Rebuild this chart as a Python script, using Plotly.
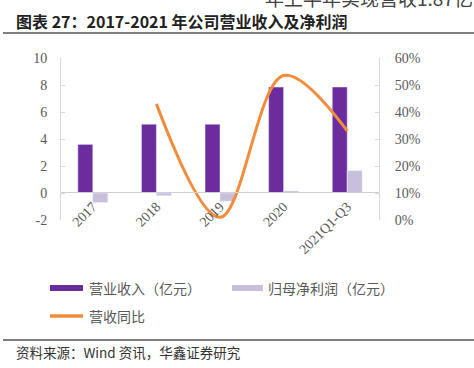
import plotly.graph_objects as go

categories = ["2017", "2018", "2019", "2020", "2021Q1-Q3"]
revenue = [3.6, 5.1, 5.1, 7.85, 7.85]
net_profit = [-0.7, -0.2, -0.6, 0.15, 1.65]
revenue_yoy = [None, 43.0, 1.0, 53.5, 33.0]
left_ticks = [-2, 0, 2, 4, 6, 8, 10]
left_tick_labels = ["-2", "0", "2", "4", "6", "8", "10"]

W, H = 474, 368
L, R, T, B = 61, 379, 58, 220

def px(x):
    return (x - L) / (R - L)

def py(y):
    return (B - y) / (B - T)

PURPLE = "#6B2C9E"
LAV = "#C9BEDC"
ORANGE = "#F28C3A"
GRAY = "#595959"
SERIF = "Liberation Serif"
CJK = "Noto Sans CJK SC"

fig = go.Figure()
fig.add_trace(go.Bar(x=categories, y=revenue, name="营业收入（亿元）",
                     marker_color=PURPLE, showlegend=False))
fig.add_trace(go.Bar(x=categories, y=net_profit, name="归母净利润（亿元）",
                     marker_color=LAV, showlegend=False))
fig.add_trace(go.Scatter(x=categories, y=revenue_yoy, name="营收同比", yaxis="y2",
                         mode="lines", line=dict(color=ORANGE, width=3, shape="spline", smoothing=1.0),
                         connectgaps=False, showlegend=False))

fig.update_layout(
    width=W, height=H,
    margin=dict(l=L, r=W - R, t=T, b=H - B),
    paper_bgcolor="white", plot_bgcolor="white",
    barmode="group", bargap=0.53, bargroupgap=0,
    xaxis=dict(anchor="free", position=py(192), showline=True, linecolor="#D0D0D0", linewidth=1,
               ticks="", tickangle=-45, tickfont=dict(family=SERIF, size=14, color=GRAY),
               showgrid=False, automargin=False),
    yaxis=dict(range=[-2, 10], tickvals=left_ticks, ticktext=left_tick_labels,
               showgrid=False, zeroline=False, automargin=False,
               showline=True, linecolor="#D9D9D9", ticks="inside", ticklen=4, tickcolor="#D9D9D9",
               tickfont=dict(family=SERIF, size=14, color=GRAY), ticklabelstandoff=10),
    yaxis2=dict(range=[0, 60], dtick=10, overlaying="y", side="right", showgrid=False, zeroline=False,
                showline=True, linecolor="#D9D9D9", ticks="inside", ticklen=4, tickcolor="#D9D9D9",
                automargin=False,
                ticksuffix="%", tickfont=dict(family=SERIF, size=14, color=GRAY), ticklabelstandoff=12),
)

shapes = [
    dict(type="line", xref="paper", yref="paper", x0=px(3), x1=px(474), y0=py(33), y1=py(33),
         line=dict(color="#555555", width=1.5)),
    dict(type="line", xref="paper", yref="paper", x0=px(3), x1=px(474), y0=py(340), y1=py(340),
         line=dict(color="#555555", width=1.5)),
    dict(type="rect", xref="paper", yref="paper", x0=px(50), x1=px(83), y0=py(291), y1=py(285),
         fillcolor=PURPLE, line=dict(width=0)),
    dict(type="rect", xref="paper", yref="paper", x0=px(232), x1=px(263), y0=py(291), y1=py(285),
         fillcolor=LAV, line=dict(width=0)),
    dict(type="line", xref="paper", yref="paper", x0=px(50), x1=px(83), y0=py(316), y1=py(316),
         line=dict(color=ORANGE, width=3.5)),
]
fig.update_layout(shapes=shapes)

def ann(text, x, y, size, color="#333333", family=CJK, xanchor="left"):
    return dict(text=text, xref="paper", yref="paper", x=px(x), y=py(y), xanchor=xanchor,
                yanchor="middle", showarrow=False, font=dict(family=family, size=size, color=color))

anns = [
    ann("年上半年实现营收1.87亿", 263, -3, 19, color="#444444"),
    ann("<b>图表 27：2017-2021 年公司营业收入及净利润</b>", 14, 21, 16, color="#222222"),
    ann("营业收入（亿元）", 87, 288, 14, color=GRAY),
    ann("归母净利润（亿元）", 266, 288, 14, color=GRAY),
    ann("营收同比", 87, 316, 14, color=GRAY),
    ann("资料来源：Wind 资讯，华鑫证券研究", 14, 352, 13.5, color="#333333"),
]
fig.update_layout(annotations=anns)

fig.write_html("out.html", config={"displayModeBar": False},
               post_script="document.body.style.margin='0';document.body.style.overflow='hidden';")
